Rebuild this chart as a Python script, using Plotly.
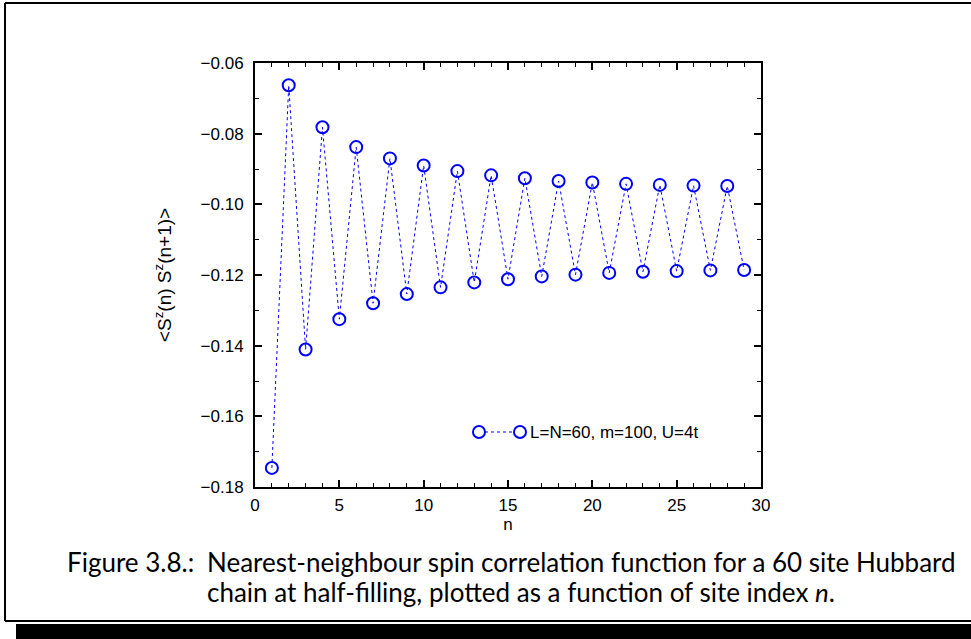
import plotly.graph_objects as go

# Site index and nearest-neighbour spin correlation <S^z(n) S^z(n+1)>
sites = list(range(1, 30))
correlation = [
    -0.1746, -0.0663, -0.1411, -0.0782, -0.1325, -0.0838, -0.1280, -0.0870,
    -0.1254, -0.0890, -0.1235, -0.0906, -0.1221, -0.0918, -0.1212, -0.0926,
    -0.1204, -0.0934, -0.1199, -0.0938, -0.1194, -0.0942, -0.1191, -0.0945,
    -0.1189, -0.0947, -0.1187, -0.0948, -0.1186,
]
series_label = "L=N=60, m=100, U=4t"
x_ticks = [0, 5, 10, 15, 20, 25, 30]
y_ticks = [-0.18, -0.16, -0.14, -0.12, -0.10, -0.08, -0.06]

W, H = 971, 639
L, R, T, B = 255, 210, 63, 152
PW, PH = W - L - R, H - T - B
BLUE = "#0000ff"
AXIS_FONT = dict(family="Liberation Sans, Arial, sans-serif", size=17, color="black")
YTITLE_FONT = dict(family="Liberation Sans, Arial, sans-serif", size=19, color="black")
CAP_FONT = dict(family="Lato, sans-serif", size=26, color="black")


def px(x):
    return (x - L) / PW


def py(y):
    return (H - B - y) / PH


fig = go.Figure()
fig.add_trace(go.Scatter(
    x=sites, y=correlation, mode="lines+markers", name=series_label,
    line=dict(color=BLUE, width=1, dash="dot"),
    marker=dict(symbol="circle-open", size=12, color=BLUE, line=dict(width=2, color=BLUE)),
    showlegend=False,
))

axis_common = dict(
    showline=True, linecolor="black", linewidth=2, mirror="ticks",
    ticks="inside", ticklen=7, tickwidth=1.5, tickcolor="black",
    showgrid=False, zeroline=False, tickfont=AXIS_FONT,
)

fig.update_xaxes(
    range=[0, 30], tickvals=x_ticks, ticktext=[str(v) for v in x_ticks],
    minor=dict(ticks="inside", ticklen=4, dtick=1, tickcolor="black", tickwidth=1),
    title=dict(text="n", font=AXIS_FONT, standoff=4),
    ticklabelstandoff=2,
    **axis_common,
)
fig.update_yaxes(
    range=[-0.18, -0.06], tickvals=y_ticks, tickformat=".2f",
    minor=dict(ticks="inside", ticklen=4, dtick=0.01, tickcolor="black", tickwidth=1),
    title=dict(text="&lt;S<sup>z</sup>(n) S<sup>z</sup>(n+1)&gt;", font=YTITLE_FONT, standoff=24),
    ticklabelstandoff=6,
    **axis_common,
)

shapes = []
# legend sample: dotted line with an open circle at each end
lx0, lx1, ly = 479, 520, 432
shapes.append(dict(type="line", xref="paper", yref="paper", x0=px(lx0), x1=px(lx1),
                   y0=py(ly), y1=py(ly), line=dict(color=BLUE, width=1, dash="dot")))
for cx in (lx0, lx1):
    shapes.append(dict(type="circle", xref="paper", yref="paper",
                       xsizemode="pixel", ysizemode="pixel",
                       xanchor=px(cx), yanchor=py(ly), x0=-6, x1=6, y0=-6, y1=6,
                       line=dict(color=BLUE, width=2), fillcolor="white"))

# page frame with a heavy drop shadow along the bottom
frame = dict(color="black", width=2)
shapes += [
    dict(type="line", xref="paper", yref="paper", x0=px(5), x1=px(W), y0=py(3), y1=py(3), line=frame),
    dict(type="line", xref="paper", yref="paper", x0=px(5), x1=px(5), y0=py(3), y1=py(621), line=frame),
    dict(type="line", xref="paper", yref="paper", x0=px(5), x1=px(W), y0=py(621), y1=py(621), line=frame),
    dict(type="rect", xref="paper", yref="paper", x0=px(16), x1=px(W), y0=py(624), y1=py(H),
         line=dict(width=0), fillcolor="black"),
]

annotations = [
    dict(text=series_label, xref="paper", yref="paper", x=px(528), y=py(ly),
         xanchor="left", yanchor="middle", showarrow=False, font=AXIS_FONT),
    dict(text="Figure 3.8.:", xref="paper", yref="paper", x=px(196), y=py(562),
         xanchor="right", yanchor="middle", showarrow=False, font=CAP_FONT),
    dict(text="Nearest-neighbour spin correlation function for a 60 site Hubbard",
         xref="paper", yref="paper", x=px(205), y=py(562),
         xanchor="left", yanchor="middle", showarrow=False, font=CAP_FONT),
    dict(text="chain at half-filling, plotted as a function of site index <i>n</i>.",
         xref="paper", yref="paper", x=px(205), y=py(592),
         xanchor="left", yanchor="middle", showarrow=False, font=CAP_FONT),
]

fig.update_layout(
    width=W, height=H, margin=dict(l=L, r=R, t=T, b=B, autoexpand=False),
    paper_bgcolor="white", plot_bgcolor="white",
    shapes=shapes, annotations=annotations, showlegend=False,
)

fig.write_html("out.html")
